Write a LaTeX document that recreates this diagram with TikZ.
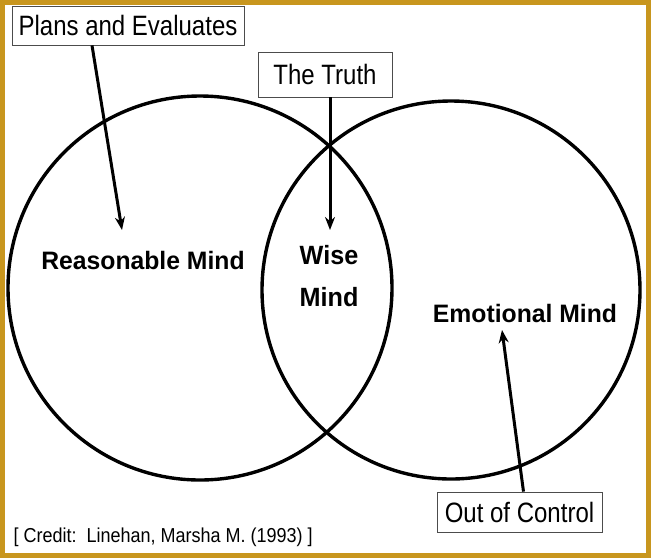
\documentclass[tikz,border=0pt]{standalone}
\usepackage{fontspec}
\setmainfont{Liberation Sans}
\usetikzlibrary{arrows.meta}
\newcommand{\tallx}[1]{\scalebox{0.96}[1.12]{#1}}
\begin{document}
\begin{tikzpicture}[x=1pt,y=-1pt,
  lbl/.style={draw=black!70,fill=white,line width=0.8pt,inner sep=3pt,font=\fontsize{25}{28}\selectfont},
  mind/.style={font=\bfseries\fontsize{24}{30}\selectfont,align=center},
  circ/.style={draw=black,line width=3.4pt},
  arr/.style={line width=3pt,-{Stealth[length=13pt,width=10pt]}}]
\useasboundingbox (0,0) rectangle (651,558);
\fill[white] (0,0) rectangle (651,558);
\draw[color={rgb,255:red,200;green,150;blue,30},line width=5pt] (2.5,2.5) rectangle (648.5,555.5);
\draw[circ] (200,288) circle (192);
\draw[circ] (451,290) circle (189);
\node[lbl,minimum width=232pt,minimum height=39pt,inner sep=1pt] (plans) at (128,25.5) {\tallx{Plans and Evaluates}};
\node[lbl,minimum width=134pt,minimum height=45pt,inner sep=1pt] (truth) at (325,74.5) {\tallx{The Truth}};
\node[lbl,minimum width=165pt,minimum height=40pt,inner sep=1pt] (ooc) at (519.5,512) {\tallx{Out of Control}};
\node[mind] (rm) at (143,260) {\scalebox{1.03}[1.05]{Reasonable Mind}};
\node[mind] (wm) at (329,276) {\scalebox{1.05}[1.1]{Wise}\\[12pt]\scalebox{1.05}[1.1]{Mind}};
\node[mind] (em) at (525,313) {\scalebox{1.03}[1.05]{Emotional Mind}};
\node[font=\fontsize{18}{22}\selectfont,anchor=west] (cr) at (10,537) {\scalebox{1.0}[1.12]{[ Credit:\ \ Linehan, Marsha M. (1993) ]}};
\coordinate (a1) at (122,230);
\coordinate (a2) at (330,230);
\coordinate (a3) at (502,330);
\draw[arr] ([xshift=-36pt]plans.south) -- (a1);
\draw[arr] ([xshift=5pt]truth.south) -- (a2);
\draw[arr] ([xshift=4pt]ooc.north) -- (a3);
\end{tikzpicture}
\end{document}
